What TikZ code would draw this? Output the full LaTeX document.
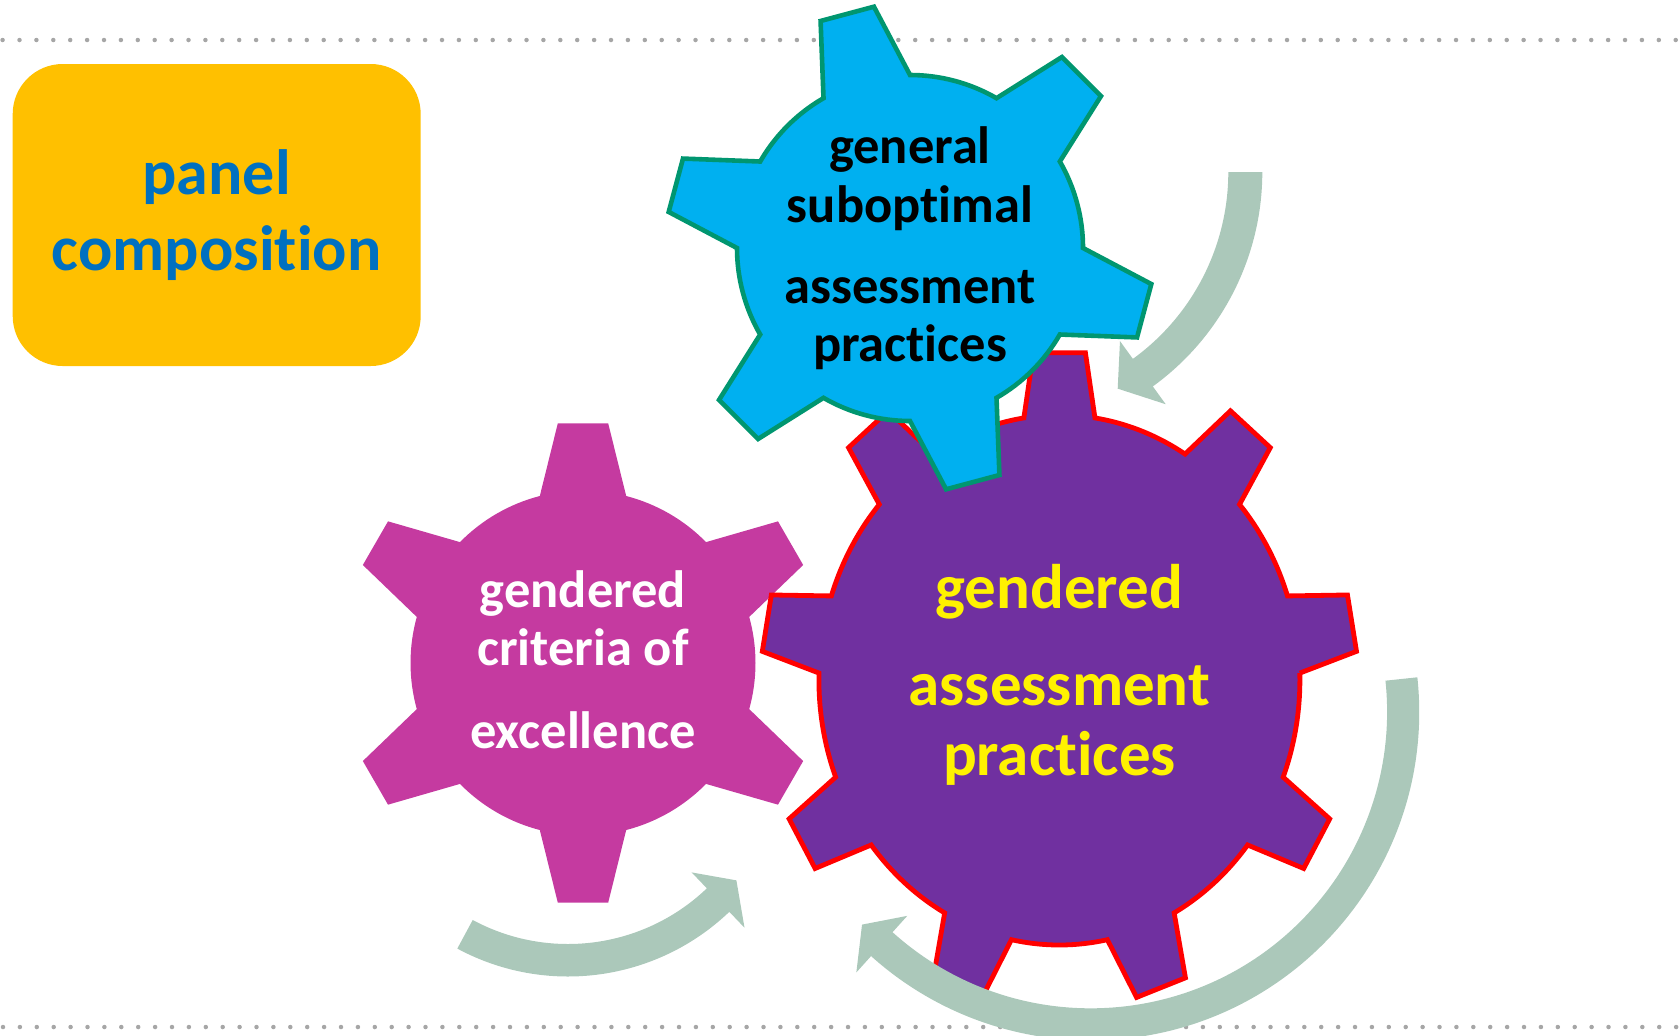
\documentclass[tikz,border=0pt]{standalone}
\usepackage{fontspec}
\setmainfont{Carlito}[Ligatures=NoCommon]
\usetikzlibrary{positioning}

\definecolor{panelyellow}{RGB}{255,192,0}
\definecolor{panelblue}{RGB}{0,112,192}
\definecolor{gearcyan}{RGB}{0,176,240}
\definecolor{gearteal}{RGB}{0,150,112}
\definecolor{gearpink}{RGB}{197,58,160}
\definecolor{gearpurple}{RGB}{112,48,160}
\definecolor{turngreen}{RGB}{171,200,186}
\definecolor{dotgrey}{RGB}{166,166,166}

\tikzset{
  dotline/.style={dotgrey, line width=2.25pt, line cap=round, dash pattern=on 0pt off 8.45pt},
  panelbox/.style={fill=panelyellow, rounded corners=25pt, minimum width=204pt, minimum height=151pt,
    text=panelblue, align=center, font=\bfseries\fontsize{32}{38}\selectfont},
  cyangear/.style={fill=gearcyan, draw=gearteal, line width=2.3pt},
  pinkgear/.style={fill=gearpink},
  purplegear/.style={fill=gearpurple, draw=red, line width=2.4pt},
  turnarrow/.style={fill=turngreen},
  geartext/.style={align=center, anchor=base, inner sep=0pt, font=\bfseries\fontsize{26.25}{29.2}\selectfont},
}

\begin{document}
\begin{tikzpicture}[x=0.5pt, y=0.5pt]
\useasboundingbox (0,0) rectangle (1679,-1035);
% dotted rules
\draw[dotline] (2.6,-40) -- (1679,-40);
\draw[dotline] (3,-1027) -- (1679,-1027);

% panel
\node[panelbox] (panel) at (216.7,-215) {panel\\composition};

% pink gear
\begin{scope}[shift={(583,-663)}]
\fill[pinkgear] (15.5:172.5) \foreach \t in {30,90,...,330} {-- (\t-6:241) -- (\t+6:241) -- (\t+14.5:172.5)
  arc[start angle=\t+14.5, end angle=\t+45.5, radius=172.5]} -- cycle;
\end{scope}
\node[geartext, text=white] (criteria) at (583,-748.3) {gendered\\criteria of\\[12pt]excellence};

% purple gear
\begin{scope}[shift={(1059.4,-680)}, xscale=240.5, yscale=265]
\draw[purplegear] (1.5:1) \foreach \t in {10,50,...,330} {-- (\t-5:1.24) -- (\t+5:1.24) -- (\t+8.5:1)
  arc[start angle=\t+8.5, end angle=\t+31.5, radius=1]} -- cycle;
\end{scope}
\node[geartext, text=yellow, font=\bfseries\fontsize{31.5}{35.15}\selectfont] (gendered) at (1059.4,-775.6)
  {gendered\\[13.5pt]assessment\\practices};

% cyan gear
\begin{scope}[shift={(910,-248)}]
\draw[cyangear] (90:173) \foreach \t in {105,165,...,405} {-- (\t-6.5:244) -- (\t+6.5:244) -- (\t+15:173)
  arc[start angle=\t+15, end angle=\t+45, radius=173]} -- cycle;
\end{scope}
\node[geartext] (general) at (910,-361.7) {general\\suboptimal\\[11.3pt]assessment\\practices};

% turning arrows
\fill[turnarrow, shift={(997.6,-172)}] (0:264.7) arc[start angle=0, end angle=-54.1, radius=264.7]
  -- (-54.1:286.7) -- (-61:247.7) -- (-54.1:208.7) -- (-54.1:230.7)
  arc[start angle=-54.1, end angle=0, radius=230.7] -- cycle;
\fill[turnarrow, shift={(568,-743)}] (-118.3:233.5) arc[start angle=-118.3, end angle=-46.3, radius=233.5]
  -- (-46.3:255.5) -- (-39.2:217.3) -- (-46.3:179) -- (-46.3:201)
  arc[start angle=-46.3, end angle=-118.3, radius=201] -- cycle;
\fill[turnarrow, shift={(1090.8,-712)}] (6.07:328.4) arc[start angle=6.07, end angle=-132, radius=328.4]
  -- (-132:350.4) -- (-137.1:312.3) -- (-132:274.3) -- (-132:296.3)
  arc[start angle=-132, end angle=6.07, radius=296.3] -- cycle;
\end{tikzpicture}
\end{document}
